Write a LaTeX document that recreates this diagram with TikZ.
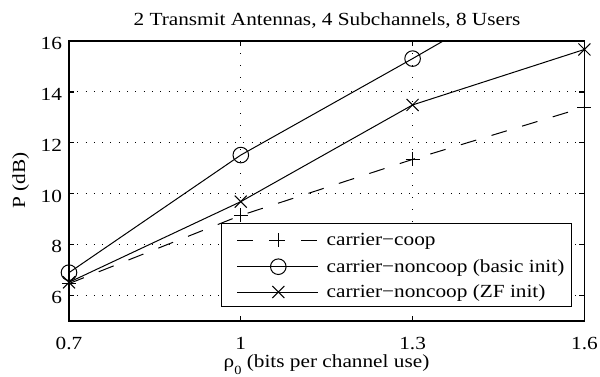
\documentclass[tikz,border=0pt]{standalone}
\usepackage{fontspec}
\setmainfont[FakeStretch=1.15]{Liberation Serif}
\begin{document}
\begin{tikzpicture}[x=1pt,y=1pt,
  every node/.style={inner sep=0pt, outer sep=0pt, font=\fontsize{18.5pt}{21pt}\selectfont},
  axisline/.style={line width=1.4pt},
  tickline/.style={line width=1.2pt},
  dataline/.style={line width=1pt},
  gridh/.style={line width=1pt, dash pattern=on 1pt off 7.3pt},
  gridv/.style={line width=1pt, dash pattern=on 1pt off 11pt},
  dashline/.style={line width=1pt, dash pattern=on 16pt off 16pt},
]
\useasboundingbox (0,0) rectangle (600,376);
\fill[white] (0,0) rectangle (600,376);

\begin{scope}[x=572.67pt, y=25.45pt, shift={(-331.87pt,-72.25pt)}]
  % grid
  \foreach \yv in {6,8,10,12,14} \draw[gridh] (0.7,\yv) -- (1.6,\yv);
  \foreach \xv in {1.0,1.3} \draw[gridv] (\xv,16) -- (\xv,5);
  % curves
  \begin{scope}
    \clip (0.7,5) rectangle (1.6,16);
    \draw[dashline] plot coordinates {(0.7,6.47) (1.0,9.15) (1.3,11.35) (1.6,13.40)};
    \draw[dataline] plot coordinates {(0.7,6.9) (1.0,11.52) (1.3,15.31) (1.6,19.2)};
    \draw[dataline] plot coordinates {(0.7,6.52) (1.0,9.69) (1.3,13.49) (1.6,15.67)};
  \end{scope}
  \draw[dataline] plot[only marks, mark=+, mark size=7pt] coordinates {(0.7,6.47) (1.0,9.15) (1.3,11.35) (1.6,13.40)};
  \foreach \p in {(0.7,6.9), (1.0,11.52), (1.3,15.31)}
    \draw[dataline] \p circle[radius=7.8pt];
  \draw[dataline] plot[only marks, mark=x, mark size=8.5pt] coordinates {(0.7,6.52) (1.0,9.69) (1.3,13.49) (1.6,15.67)};
  % axes box
  \draw[axisline] (0.7,5) rectangle (1.6,16);
  \foreach \yv in {6,8,10,12,14} {
    \draw[tickline] (0.7,\yv) -- ++(5pt,0);
    \draw[tickline] (1.6,\yv) -- ++(-5pt,0);
  }
  \foreach \xv in {1.0,1.3} {
    \draw[tickline] (\xv,5) -- ++(0,5pt);
    \draw[tickline] (\xv,16) -- ++(0,-5pt);
  }
  % tick labels
  \foreach \yv in {6,8,10,12,14,16}
    \node[anchor=base east] (yt\yv) at ([xshift=-7pt,yshift=-8.3pt]0.7,\yv) {\yv};
  \foreach \xv/\lab [count=\i] in {0.7/0.7, 1.0/1, 1.3/1.3, 1.6/1.6}
    \node[anchor=base] (xt\i) at ([yshift=-28pt]\xv,5) {\lab};
\end{scope}

% title and axis labels
\node[anchor=base] (title) at (327,351) {2 Transmit Antennas, 4 Subchannels, 8 Users};
\node[anchor=base, rotate=90] (ylab) at (25,195.5) {P (dB)};
\node[anchor=base] (xlab) at (326.5,8.5) {ρ\raisebox{-6.5pt}{\fontsize{12.5pt}{12.5pt}\selectfont 0} (bits per channel use)};

% legend
\draw[line width=1.2pt, fill=white] (221.7,152.7) rectangle (571.7,69.3);
\draw[dashline] (237.3,136) -- (318.3,136);
\draw[dataline] plot[only marks, mark=+, mark size=7pt] coordinates {(278.3,136)};
\draw[dataline] (237.3,109.3) -- (318.3,109.3);
\draw[dataline] (278.3,109.3) circle[radius=7.8pt];
\draw[dataline] (237.3,84) -- (318.3,84);
\draw[dataline] plot[only marks, mark=x, mark size=8.5pt] coordinates {(278.3,84)};
\node[anchor=base west] (leg1) at (326.7,130.5) {carrier−coop};
\node[anchor=base west] (leg2) at (326.7,103.8) {carrier−noncoop (basic init)};
\node[anchor=base west] (leg3) at (326.7,78.5) {carrier−noncoop (ZF init)};
\end{tikzpicture}
\end{document}
